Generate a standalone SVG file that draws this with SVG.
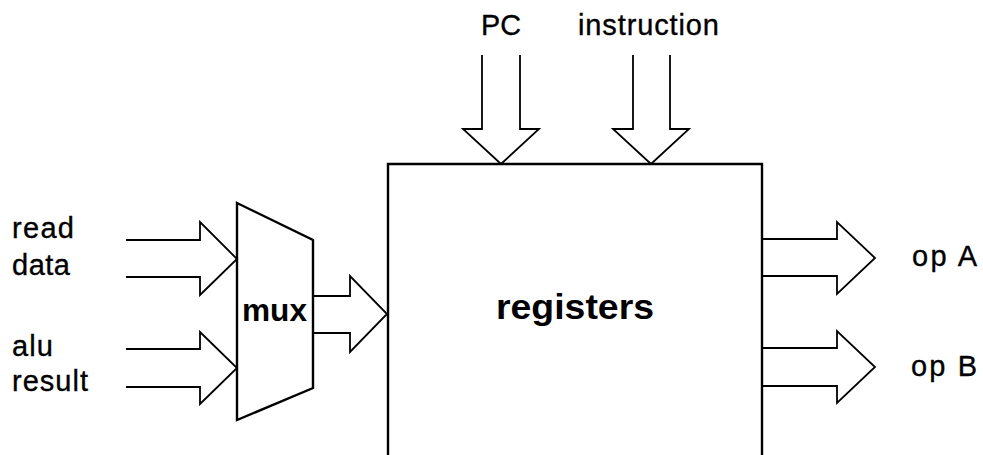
<svg xmlns="http://www.w3.org/2000/svg" width="983" height="455" viewBox="0 0 983 455">
  <style>
    .bus { fill: none; stroke: #000; stroke-width: 1.8; stroke-linejoin: miter; }
    .block { fill: #fff; stroke: #000; stroke-width: 2.4; stroke-linejoin: miter; }
    .lbl { font-family: "Liberation Sans", Arial, sans-serif; font-size: 29px; fill: #000; stroke: #000; stroke-width: 0.35; }
    .title { font-family: "Liberation Sans", Arial, sans-serif; font-weight: bold; fill: #000; }
  </style>
  <rect width="983" height="455" fill="#fff"/>

  <!-- register file block (continues below the frame) -->
  <g id="registers">
    <path class="block" d="M388,470 V164 H762 V470"/>
    <text class="title" x="496" y="319" font-size="35" textLength="158" lengthAdjust="spacingAndGlyphs">registers</text>
  </g>

  <!-- write-back multiplexer -->
  <g id="mux">
    <path class="block" d="M237,203 L313,240 L313,388 L237,420 Z"/>
    <text class="title" x="242" y="321" font-size="31" textLength="65" lengthAdjust="spacingAndGlyphs">mux</text>
  </g>

  <!-- input labels -->
  <g id="read-data">
    <text class="lbl" x="12" y="238" textLength="62" lengthAdjust="spacing">read</text>
    <text class="lbl" x="12" y="275" textLength="58" lengthAdjust="spacing">data</text>
  </g>
  <g id="alu-result">
    <text class="lbl" x="12" y="356" textLength="41" lengthAdjust="spacing">alu</text>
    <text class="lbl" x="12" y="391" textLength="76" lengthAdjust="spacing">result</text>
  </g>
  <g id="pc">
    <text class="lbl" x="481" y="35" textLength="40" lengthAdjust="spacingAndGlyphs">PC</text>
  </g>
  <g id="instruction">
    <text class="lbl" x="578" y="35" textLength="141" lengthAdjust="spacing">instruction</text>
  </g>
  <g id="op-a">
    <text class="lbl" x="912" y="266" textLength="65" lengthAdjust="spacing">op A</text>
  </g>
  <g id="op-b">
    <text class="lbl" x="911" y="376" textLength="66" lengthAdjust="spacing">op B</text>
  </g>

  <!-- wide bus arrows -->
  <g id="connectors">
    <!-- read data -> mux -->
    <polyline class="bus" points="126,240 200,240 200,222 237,259 200,295 200,277 126,277"/>
    <!-- alu result -> mux -->
    <polyline class="bus" points="126,349 200,349 200,332 237,368 200,404 200,387 126,387"/>
    <!-- mux -> registers -->
    <polyline class="bus" points="313,296 350,296 350,276 387,314 350,352 350,333 313,333"/>
    <!-- PC -> registers -->
    <polyline class="bus" points="482,55 482,129 463,129 501,164 539,129 520,129 520,55"/>
    <!-- instruction -> registers -->
    <polyline class="bus" points="633,55 633,129 613,129 651,164 689,129 670,129 670,55"/>
    <!-- registers -> op A -->
    <polyline class="bus" points="762,239 837,239 837,222 875,258 837,294 837,276 762,276"/>
    <!-- registers -> op B -->
    <polyline class="bus" points="762,348 837,348 837,331 875,367 837,403 837,386 762,386"/>
  </g>
</svg>
